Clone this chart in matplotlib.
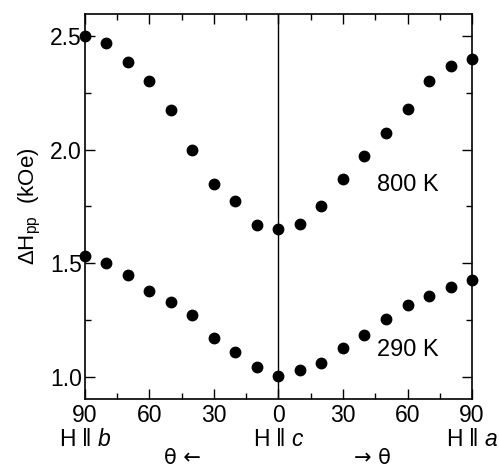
import numpy as np
import matplotlib
matplotlib.use("Agg")
import matplotlib.pyplot as plt
from matplotlib.ticker import MultipleLocator

plt.rcParams['font.family'] = ['Liberation Sans', 'DejaVu Sans']
plt.rcParams['mathtext.fontset'] = 'custom'
plt.rcParams['mathtext.rm'] = 'Liberation Sans'
plt.rcParams['mathtext.it'] = 'Liberation Sans:italic'

# angle: negative = from c toward b, positive = from c toward a
angle = [-90, -80, -70, -60, -50, -40, -30, -20, -10, 0,
         10, 20, 30, 40, 50, 60, 70, 80, 90]
dh_800 = [2.50, 2.47, 2.385, 2.30, 2.175, 2.00, 1.85, 1.773, 1.668, 1.65,
          1.672, 1.75, 1.871, 1.97, 2.073, 2.18, 2.30, 2.37, 2.40]
dh_290 = [1.53, 1.50, 1.45, 1.378, 1.33, 1.27, 1.17, 1.11, 1.041, 1.003,
          1.032, 1.06, 1.125, 1.184, 1.255, 1.314, 1.355, 1.395, 1.426]
xtick_pos = [-90, -60, -30, 0, 30, 60, 90]
xtick_lab = ["90", "60", "30", "0", "30", "60", "90"]

fig = plt.figure(figsize=(4.99, 4.67), dpi=100)
ax = fig.add_axes([0.170, 0.146, 0.776, 0.824])

ax.plot(angle, dh_800, 'o', color='black', ms=7.5, clip_on=False)
ax.plot(angle, dh_290, 'o', color='black', ms=7.5, clip_on=False)
ax.axvline(0, color='black', lw=1.0)

ax.set_xlim(-90, 90)
ax.set_ylim(0.903, 2.597)
ax.set_xticks(xtick_pos)
ax.set_xticklabels(xtick_lab)
ax.xaxis.set_minor_locator(MultipleLocator(15))
ax.set_yticks([1.0, 1.5, 2.0, 2.5])
ax.yaxis.set_minor_locator(MultipleLocator(0.25))
ax.tick_params(which='both', direction='in', top=True, right=True,
               labelsize=16.5, width=1.0)
ax.tick_params(which='major', length=7)
ax.tick_params(which='minor', length=4)
ax.tick_params(axis='y', labelright=False, pad=2)
ax.tick_params(axis='x', pad=4)
for s in ax.spines.values():
    s.set_linewidth(1.2)

ax.set_ylabel(r'$\Delta\mathrm{H}_{\mathrm{pp}}$  (kOe)', fontsize=16, labelpad=5)

ax.text(60, 1.843, "800 K", fontsize=17, ha='center', va='center')
ax.text(60, 1.119, "290 K", fontsize=17, ha='center', va='center')

fig.text(85 / 499, 1 - 440 / 467, r'$\mathrm{H}\ \|\ \mathit{b}$', fontsize=16.5,
         ha='center', va='center')
fig.text(279 / 499, 1 - 440 / 467, r'$\mathrm{H}\ \|\ \mathit{c}$', fontsize=16.5,
         ha='center', va='center')
fig.text(472 / 499, 1 - 440 / 467, r'$\mathrm{H}\ \|\ \mathit{a}$', fontsize=16.5,
         ha='center', va='center')
fig.text(182 / 499, 1 - 458 / 467, "\u03b8 \u2190", fontsize=15,
         family=['DejaVu Sans'], ha='center', va='center')
fig.text(372 / 499, 1 - 458 / 467, "\u2192 \u03b8", fontsize=15,
         family=['DejaVu Sans'], ha='center', va='center')

plt.savefig("out.png", dpi=100)
